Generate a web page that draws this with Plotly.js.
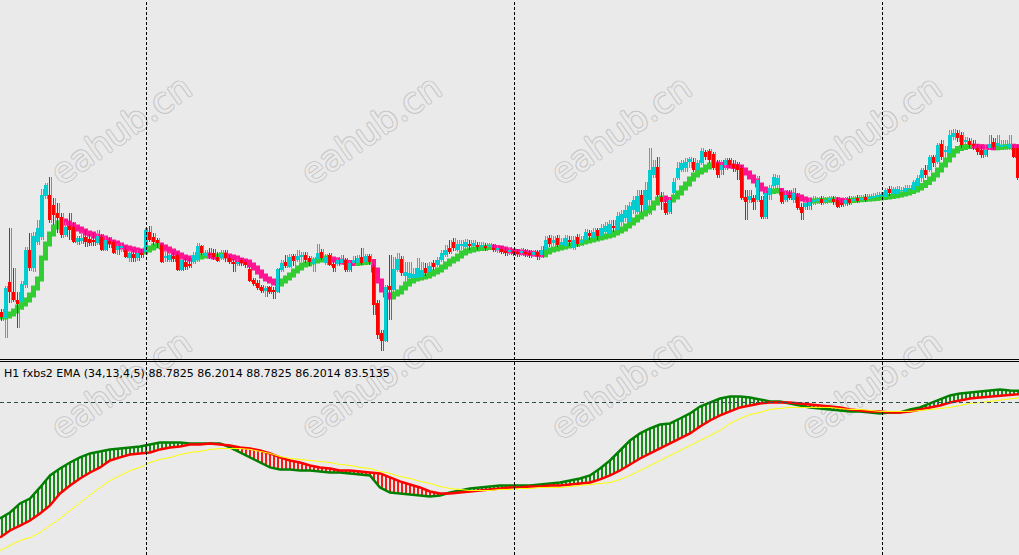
<!DOCTYPE html>
<html><head><meta charset="utf-8">
<script src="https://cdn.plot.ly/plotly-3.0.1.min.js"></script>
<style>html,body{margin:0;padding:0;background:#eaeaea;overflow:hidden}
#wm,#chart{position:absolute;left:0;top:0;width:1019px;height:555px}</style>
</head><body><div id="wm"></div><div id="chart"></div>
<script>
// ---- main window: H1 candles (price units) ----
const OPEN = [
 88, 82,118,108,100, 98,115,150,132,158,
 163,204,205,195,187,183,165,174,173,158,
 159,163,161,160,157,163,150,159,158,150,
 152,150,142,146,142,147,148,168,163,160,
 155,142,140,144,145,130,138,136,138,140,
 154,144,146,147,143,142,147,142,138,136,
 140,138,131,120,117,113,109,113,110,108,
 130,138,133,144,140,143,145,142,136,141,
 148,137,145,136,136,137,140,130,137,137,
 143,138,144,133, 97, 67, 59,114,110,130,
 141,124,122,122,122,123,132,128,137,135,
 140,145,152,158,150,154,153,156,154,155,
 153,154,153,152,150,151,149,148,149,148,
 147,148,147,145,148,145,150,162,157,162,
 155,154,160,152,163,157,160,167,162,170,
 164,168,166,174,170,178,182,178,190,188,
 205,190,200,225,233,203,197,188,207,222,
 230,232,238,238,230,237,248,249,246,237,
 230,235,240,236,235,232,203,200,202,200,
 200,183,205,214,215,208,200,205,200,203,
 193,193,194,198,199,201,198,200,201,200,
 197,196,201,199,202,200,203,201,202,203,
 204,203,211,206,206,209,208,211,210,214,
 222,230,230,243,238,256,248,247,263,267,
 265,258,259,256,252,250,245,252,258,254,
 253,254,252,252,252];
const CLOSE = [
 83,112,108,100, 96,116,150,132,164,172,
 205,215,180,185,182,165,173,170,158,162,
 162,158,157,158,164,150,160,156,147,154,
 154,143,147,142,147,145,170,160,158,157,
 138,144,145,141,130,140,133,134,145,154,
 147,147,145,143,139,146,142,138,136,138,
 137,135,119,116,112,109,112,108,108,131,
 137,134,143,139,144,145,140,138,141,147,
 142,143,135,132,140,141,130,137,140,142,
 137,144,138, 95, 65, 59,113,110,131,141,
 127,128,127,126,132,130,127,134,133,140,
 147,150,148,152,156,156,158,154,157,153,
 155,152,155,150,152,148,147,150,147,146,
 149,146,145,148,144,150,160,156,160,155,
 158,162,158,160,156,160,168,164,168,164,
 172,174,176,172,184,186,190,194,200,204,
 195,210,230,233,205,198,187,200,218,232,
 237,238,241,230,237,249,243,240,232,225,
 235,240,235,232,230,202,198,204,198,220,
 183,207,212,223,222,198,205,202,207,192,
 187,197,198,200,201,197,200,202,198,193,
 195,200,197,201,199,202,200,203,204,205,
 206,210,207,211,211,210,212,211,218,222,
 230,225,243,237,255,243,250,265,267,262,
 255,260,255,254,248,245,250,256,253,257,
 255,255,256,243,222];
const HIGH = [
 91,114,172,132,108,119,153,167,168,180,
 211,217,223,202,197,187,178,187,178,164,
 168,170,166,167,170,166,164,163,160,156,
 157,154,150,150,150,151,172,174,167,162,
 157,150,148,148,147,142,142,142,148,157,
 155,150,152,151,148,150,150,145,141,141,
 142,140,133,122,120,115,114,114,113,132,
 140,145,146,146,150,148,148,144,143,156,
 151,146,147,139,143,145,142,139,144,145,
 152,146,146,136,100, 70,115,145,143,147,
 144,138,138,132,142,138,137,138,140,143,
 150,155,160,162,160,160,161,160,160,158,
 158,157,157,156,155,154,152,153,151,151,
 152,151,150,150,150,154,164,165,164,165,
 162,165,164,164,166,164,171,170,172,172,
 176,178,180,180,188,190,195,198,204,210,
 210,218,252,240,243,208,200,202,222,238,
 240,242,243,242,240,252,250,251,248,240,
 240,242,242,240,238,235,210,210,205,224,
 204,210,215,226,225,212,210,210,212,207,
 197,200,202,204,203,204,203,204,204,203,
 201,203,204,204,205,205,206,206,207,208,
 208,212,214,213,214,213,215,215,220,225,
 232,235,245,245,257,260,254,270,271,270,
 268,263,262,260,256,254,255,265,262,265,
 260,260,265,255,255];
const LOW = [
 79, 62, 97, 98, 72, 90,112,129,128,155,
 160,201,177,175,167,162,163,160,157,155,
 156,153,154,154,155,149,149,152,146,145,
 148,142,138,138,139,142,147,158,155,152,
 137,138,138,138,129,129,130,132,136,138,
 145,142,141,140,138,140,138,136,128,134,
 134,132,118,114,110,107,103,106,101,107,
 128,132,132,134,138,138,137,134,128,140,
 140,135,134,128,134,135,128,128,136,135,
 135,136,135, 85, 61, 49, 58, 80,108,128,
 124,117,120,118,120,121,124,125,130,133,
 138,143,146,149,148,150,151,150,151,150,
 149,149,150,148,147,146,144,145,144,143,
 144,143,142,143,140,142,148,153,154,153,
 152,152,154,150,153,154,158,160,160,160,
 162,164,164,168,168,174,178,176,186,186,
 188,186,185,222,203,190,185,186,205,220,
 228,228,232,228,225,235,240,237,230,222,
 225,230,232,228,220,200,180,197,190,198,
 181,181,200,210,212,196,198,200,197,190,
 180,190,190,195,196,195,196,197,195,192,
 193,194,195,197,197,198,198,199,200,201,
 202,202,204,203,204,205,206,208,208,210,
 218,222,228,233,236,240,242,245,260,258,
 252,253,252,250,245,242,243,250,250,251,
 250,250,250,242,220];
// smoothed Heiken Ashi close (overlay)
const HA = [
 83,84,86,89,93,96,100,105,112,121,
 142,156,166,173,177,179,177,175,173,171,
 169,167,166,164,163,162,160,158,157,155,
 153,152,151,150,149,148,150,152,154,155,
 153,151,149,147,145,143,142,141,142,143,
 144,145,144,143,144,145,144,143,142,140,
 139,138,135,132,128,124,121,119,117,116,
 119,122,125,129,132,135,136,138,139,140,
 141,142,141,140,139,138,137.5,137,136.5,137,
 137.5,138,138.5,130,119,110,105,103,106,108,
 112,116,119,121,122,123,124,126,128,130,
 133,136,139,141,144,147,149,150,151,151.5,
 152,152.5,153,152.5,152,151,150,149,148.5,148,
 147.5,147,146.5,146,145.5,145.2,148,150,151,152,
 153,154,155,156,157,158,159,160,161,162,
 163,164,165,167,169,171,174,177,180,183,
 186,189,192,197,201,202,200.5,200,203,207,
 212,216,221,225,228,230,233,235,236,235.5,
 235,234.5,234,233.5,233,230,227,223,219,215,
 211,208,208.5,209,209.5,207,206,205,204,203,
 201,200,199,199.2,199.4,199.6,199.8,200,200.2,199.8,
 199.4,199,199.5,200,200.3,200.6,200.9,201.2,201.6,202,
 202.5,203,203.6,204.2,205,206,207,208.5,210,212,
 214.5,217.5,221,225,230,235,240,245,249,251.5,
 252.5,253.5,254,253.7,253.4,253.1,252.8,252.5,252.2,252.6,
 253,253.4,253.8,253.4,253];

// ---- sub window: fxbs2 EMA (34,13,4,5), sampled every 2.5 bars ----
const FAST = [
 -7.0,-2.5,4.3,8.0,16.3,25.3,30.5,35.0,38.8,41.8,
 43.3,44.8,45.5,46.3,47.0,48.5,50.0,50.0,50.0,49.3,
 49.3,49.3,49.3,46.3,42.5,38.8,35.0,31.3,29.8,29.8,
 29.0,29.0,28.3,27.5,27.5,26.8,26.0,25.3,16.3,12.5,
 11.8,11.0,10.3,9.5,10.3,12.5,14.0,15.5,16.3,17.0,
 17.8,17.8,17.8,17.8,18.5,19.3,20.0,21.5,23.0,25.3,
 30.5,36.5,44.0,51.5,56.8,60.5,63.5,64.3,68.0,71.8,
 77.0,80.0,83.0,84.5,84.5,83.8,82.3,80.8,80.8,79.3,
 77.8,76.3,75.5,74.8,74.0,73.3,73.3,72.5,71.8,72.5,
 72.5,74.8,76.3,79.3,82.3,85.3,86.8,87.5,88.3,89.0,
 89.8,89.0,88.7825];
const SLOW = [
 -21.3,-16.0,-12.3,-8.5,-3.3,2.8,11.8,17.8,23.0,27.5,
 31.3,36.5,38.8,41.0,41.8,42.5,44.8,46.3,47.0,48.5,
 48.5,49.3,48.5,47.8,46.3,45.5,44.0,41.8,38.8,36.5,
 35.0,32.8,31.3,30.5,29.0,29.0,28.3,27.5,26.8,23.8,
 20.8,18.5,16.3,13.3,11.8,11.8,12.5,13.3,14.0,14.8,
 15.5,16.3,16.3,17.0,17.0,17.8,17.8,18.5,19.3,20.0,
 22.3,25.3,29.0,33.5,38.0,41.8,45.5,49.3,53.0,56.8,
 62.0,66.5,70.3,73.3,76.3,77.8,79.3,80.0,80.0,80.0,
 79.3,78.5,77.8,77.0,76.3,74.8,74.0,73.3,73.3,72.5,
 72.5,73.3,74.8,76.3,77.8,80.0,81.5,83.0,83.8,84.5,
 85.3,85.8,86.2014];
const SIGNAL = [
 -31.0,-27.3,-23.5,-21.3,-17.5,-12.3,-7.0,-1.0,5.0,10.3,
 16.3,21.5,25.3,29.0,31.3,35.0,37.3,38.8,41.0,42.5,
 43.3,44.8,45.5,45.5,45.5,44.8,43.3,41.8,39.5,38.0,
 37.3,36.5,35.8,35.0,33.5,32.8,31.3,30.5,28.3,26.8,
 24.5,23.0,20.8,19.3,17.0,15.5,14.8,14.0,14.0,14.0,
 14.8,14.8,15.5,15.5,16.3,16.3,16.3,17.0,17.8,18.5,
 19.3,20.0,22.3,25.3,29.0,32.8,36.5,40.3,44.0,47.8,
 51.5,55.3,59.0,64.3,68.0,71.0,72.5,74.8,75.5,76.3,
 76.3,76.3,76.3,76.3,75.5,74.8,74.8,74.0,73.3,73.3,
 73.3,73.3,74.0,74.8,75.5,76.3,77.8,79.3,80.0,80.8,
 81.5,82.3,83.5135];
const LEVEL = 80;
const LABEL = "H1 fxbs2 EMA (34,13,4,5) 88.7825 86.2014 88.7825 86.2014 83.5135";
const WATERMARK = "eahub.cn";
const SEPARATOR_BARS = [36.625, 128.625, 220.625];

// ---- styling ----
const BG = '#eaeaea';
const C_BULL = '#00ced1', C_BEAR = '#ff0000', C_HAUP = '#32cd32', C_HADN = '#ff1493';
const X_MAX = 254.75, SUB_STEP = 2.5, HA_PAD = 2.5;

const xBar = CLOSE.map((_, i) => i + 0.375);
const xHaWick = CLOSE.map((_, i) => i + 0.875);
const bull = CLOSE.map((c, i) => c >= OPEN[i]);
const candleCol = bull.map(b => b ? C_BULL : C_BEAR);
const haOpen = HA.map((v, i) => i === 0 ? v : HA[i - 1]);
const haUp = HA.map((v, i) => v >= haOpen[i]);
const haCol = haUp.map(u => u ? C_HAUP : C_HADN);

function barTrace(x, base, len, color, width) {
  return {type: 'bar', x: x, y: len, base: base, width: width, yaxis: 'y',
    marker: {color: color, line: {width: 0}}, hoverinfo: 'skip', showlegend: false};
}
// high-low lines as segments, one trace per colour
function wickTrace(xs, mask, color) {
  const x = [], y = [];
  xs.forEach((xv, i) => { if (mask[i]) { x.push(xv, xv, null); y.push(LOW[i], HIGH[i], null); } });
  return {type: 'scatter', mode: 'lines', x: x, y: y, yaxis: 'y', connectgaps: false,
    line: {color: color, width: 1}, hoverinfo: 'skip', showlegend: false};
}
const traces = [];
traces.push(wickTrace(xHaWick, haUp, C_HAUP));
traces.push(wickTrace(xHaWick, haUp.map(u => !u), C_HADN));
traces.push(barTrace(xBar, HA.map((v, i) => Math.min(v, haOpen[i]) - HA_PAD),
  HA.map((v, i) => Math.abs(v - haOpen[i]) + 2 * HA_PAD), haCol, 1.25));
traces.push(wickTrace(xBar, bull, C_BULL));
traces.push(wickTrace(xBar, bull.map(b => !b), C_BEAR));
traces.push(barTrace(xBar, OPEN.map((o, i) => Math.min(o, CLOSE[i])),
  OPEN.map((o, i) => Math.max(Math.abs(CLOSE[i] - o), 1)), candleCol, 0.75));

const subX = FAST.map((_, k) => Math.min(k * SUB_STEP, X_MAX));
const upper = FAST.map((g, k) => Math.max(g, SLOW[k]));
const lower = FAST.map((g, k) => Math.min(g, SLOW[k]));
const hidden = {mode: 'lines', line: {width: 0, color: 'rgba(0,0,0,0)'}, yaxis: 'y2', hoverinfo: 'skip', showlegend: false};
traces.push(Object.assign({x: subX, y: SLOW}, hidden));
traces.push(Object.assign({x: subX, y: upper, fill: 'tonexty', fillcolor: 'rgba(0,0,0,0)',
  fillpattern: {shape: '|', fgcolor: '#008000', bgcolor: 'rgba(0,0,0,0)', size: 4, solidity: 0.45}}, hidden));
traces.push(Object.assign({x: subX, y: SLOW}, hidden));
traces.push(Object.assign({x: subX, y: lower, fill: 'tonexty', fillcolor: 'rgba(0,0,0,0)',
  fillpattern: {shape: '|', fgcolor: '#ff0000', bgcolor: 'rgba(0,0,0,0)', size: 4, solidity: 0.45}}, hidden));
traces.push({x: subX, y: FAST, mode: 'lines', line: {color: '#008000', width: 2.5}, yaxis: 'y2', hoverinfo: 'skip', showlegend: false});
traces.push({x: subX, y: SLOW, mode: 'lines', line: {color: '#ff0000', width: 2.5}, yaxis: 'y2', hoverinfo: 'skip', showlegend: false});
traces.push({x: subX, y: SIGNAL, mode: 'lines', line: {color: '#ffff00', width: 1}, yaxis: 'y2', hoverinfo: 'skip', showlegend: false});

const W = 1019, H = 555;
const py = p => 1 - p / H;
const shapes = [];
SEPARATOR_BARS.forEach(b => shapes.push({type: 'line', xref: 'x', yref: 'paper', x0: b, x1: b, y0: 0, y1: 1,
  line: {color: '#000000', width: 1, dash: '3px,2px'}}));
shapes.push({type: 'line', xref: 'paper', yref: 'paper', x0: 0, x1: 1, y0: py(359.5), y1: py(359.5), line: {color: '#000', width: 1}});
shapes.push({type: 'line', xref: 'paper', yref: 'paper', x0: 0, x1: 1, y0: py(361.5), y1: py(361.5), line: {color: '#000', width: 1}});
shapes.push({type: 'line', xref: 'paper', yref: 'y2', x0: 0, x1: 1, y0: LEVEL, y1: LEVEL, line: {color: '#2f4f4f', width: 1, dash: '4px,3px'}});

const axisOff = {showgrid: false, zeroline: false, showticklabels: false, showline: false, ticks: '', fixedrange: true};

// watermark layer, drawn underneath the chart
const wmCenters = [[121,130],[371,130],[621,130],[871,130],[121,385],[371,385],[621,385],[871,385]];
const wmShadow = '1px 0 0 #c4c4c4, -1px 0 0 #c4c4c4, 0 1px 0 #c4c4c4, 0 -1px 0 #c4c4c4';
const wmAnn = wmCenters.map(c => ({text: WATERMARK, xref: 'paper', yref: 'paper', x: c[0] / W, y: py(c[1]),
  xanchor: 'center', yanchor: 'middle', showarrow: false, textangle: -35,
  font: {family: 'DejaVu Sans', size: 35, color: BG, shadow: wmShadow}}));
Plotly.newPlot('wm', [], {width: W, height: H, margin: {l: 0, r: 0, t: 0, b: 0},
  paper_bgcolor: BG, plot_bgcolor: BG, xaxis: Object.assign({visible: false}, axisOff), yaxis: Object.assign({visible: false}, axisOff),
  annotations: wmAnn}, {displayModeBar: false, staticPlot: true});

const annotations = [{text: LABEL, xref: 'paper', yref: 'paper', x: 2 / W, y: py(373), xanchor: 'left', yanchor: 'middle',
  showarrow: false, font: {family: 'DejaVu Sans', size: 11, color: '#000000'}}];

const layout = {
  width: W, height: H, margin: {l: 0, r: 0, t: 0, b: 0, pad: 0},
  paper_bgcolor: 'rgba(0,0,0,0)', plot_bgcolor: 'rgba(0,0,0,0)', barmode: 'overlay', showlegend: false,
  xaxis: Object.assign({range: [0, X_MAX]}, axisOff),
  yaxis: Object.assign({domain: [py(358), 1], range: [42, 400]}, axisOff),
  yaxis2: Object.assign({domain: [0, py(362)], range: [-34.375, 110.375]}, axisOff),
  shapes: shapes, annotations: annotations
};
Plotly.newPlot('chart', traces, layout, {displayModeBar: false, staticPlot: true});
</script></body></html>
